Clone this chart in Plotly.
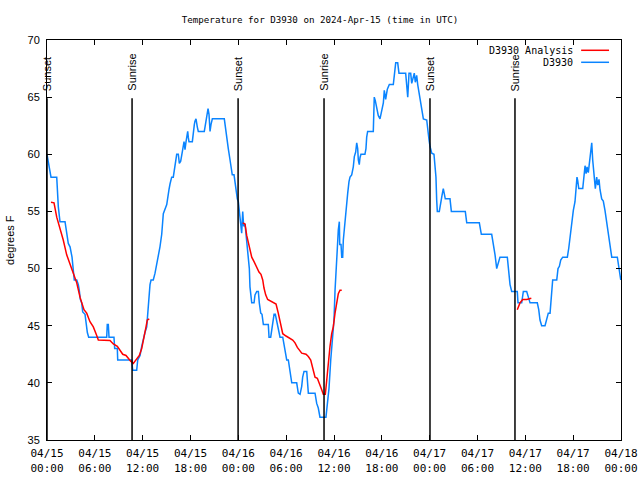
import plotly.graph_objects as go

# ---- data (hours since 2024-04-15 00:00 UTC, degrees F) ----
obs_hours = [0.00, 0.25, 0.50, 1.22, 1.42, 1.63, 2.26, 2.67, 2.89, 3.14, 3.30, 3.42, 3.73, 3.93, 4.05, 4.18, 4.35, 4.48, 4.77, 4.89,
             5.06, 5.23, 7.49, 7.56, 7.69, 7.78, 8.40, 8.49, 8.82, 8.87, 10.62, 10.75, 11.25, 11.38, 11.67, 11.88, 12.08, 12.29, 12.51, 12.71,
             12.92, 13.05, 13.33, 13.55, 13.76, 13.96, 14.17, 14.39, 14.59, 15.02, 15.14, 15.30, 15.43, 15.64, 15.84, 15.97, 16.14, 16.27, 16.47, 16.60,
             16.77, 16.90, 17.02, 17.19, 17.31, 17.44, 17.65, 17.72, 17.81, 18.23, 18.35, 18.48, 18.56, 18.69, 18.85, 18.98, 19.73, 19.82, 19.94, 20.07,
             20.20, 20.32, 20.45, 20.57, 20.74, 22.24, 22.42, 22.54, 22.74, 22.96, 23.08, 23.24, 23.46, 23.58, 23.71, 23.87, 24.00, 24.12, 24.30, 24.42,
             24.55, 24.67, 24.84, 25.05, 25.25, 25.38, 25.46, 25.59, 25.68, 25.97, 26.09, 26.31, 26.51, 26.63, 26.81, 26.97, 27.14, 27.76, 27.85, 28.06,
             28.19, 28.31, 28.48, 28.64, 28.82, 29.01, 29.23, 29.57, 29.64, 29.85, 30.07, 30.27, 30.48, 30.70, 31.32, 31.52, 31.74, 31.95, 32.07, 32.24,
             32.58, 32.78, 33.62, 33.83, 34.03, 34.24, 34.99, 35.16, 35.37, 35.59, 35.79, 36.00, 36.13, 36.34, 36.42, 36.54, 36.67, 36.72, 36.88, 36.97,
             37.09, 37.17, 37.29, 37.42, 37.59, 37.72, 37.88, 38.01, 38.22, 38.42, 38.55, 38.72, 38.85, 38.97, 39.05, 39.17, 39.26, 39.38, 39.88, 40.01,
             40.10, 40.22, 40.93, 41.05, 41.18, 41.35, 41.55, 41.77, 41.98, 42.19, 42.31, 42.48, 42.69, 42.94, 43.44, 43.56, 43.74, 43.99, 44.15, 44.99,
             45.12, 45.25, 45.41, 45.62, 45.75, 45.91, 46.07, 46.20, 46.37, 46.50, 46.70, 46.88, 47.00, 47.21, 47.63, 47.76, 47.92, 48.04, 48.26, 48.54,
             48.67, 48.79, 48.88, 48.96, 49.21, 49.38, 49.55, 49.71, 49.84, 49.96, 50.55, 50.72, 52.47, 52.65, 54.23, 54.48, 55.78, 55.98, 56.20, 56.41,
             56.61, 56.82, 57.74, 57.91, 58.08, 58.29, 58.99, 59.08, 59.54, 59.75, 60.17, 60.38, 60.59, 61.50, 61.68, 61.84, 62.05, 62.47, 62.68, 62.88,
             63.10, 63.31, 63.43, 63.94, 64.10, 64.27, 64.44, 64.69, 65.27, 65.45, 65.61, 65.82, 66.02, 66.23, 66.36, 66.48, 66.57, 66.70, 67.20, 67.32,
             67.49, 67.62, 67.74, 67.90, 68.11, 68.24, 68.33, 68.45, 68.61, 68.78, 68.95, 69.08, 69.24, 69.37, 69.58, 69.78, 69.99, 70.21, 70.41, 70.62,
             70.84, 71.54, 71.71, 71.88, 71.97]
obs_temps = [60.0, 59.1, 58.0, 58.0, 55.4, 54.1, 54.1, 52.2, 51.9, 51.0, 50.0, 49.0, 49.0, 48.6, 48.1, 47.3, 47.0, 46.2, 46.0, 45.1,
             44.4, 44.0, 44.0, 45.1, 45.1, 44.0, 44.0, 43.0, 43.0, 42.0, 42.0, 41.1, 41.1, 42.0, 42.4, 43.2, 43.9, 44.4, 44.9, 47.0,
             48.6, 49.0, 49.0, 49.6, 50.3, 51.2, 51.9, 53.0, 54.8, 55.6, 56.4, 56.9, 57.4, 58.0, 58.0, 58.5, 59.5, 60.0, 60.0, 59.2,
             59.4, 59.8, 60.4, 61.1, 60.4, 61.1, 62.0, 61.5, 61.1, 61.1, 62.1, 62.6, 62.9, 63.1, 62.4, 62.0, 62.0, 62.4, 63.0, 63.7,
             64.0, 63.5, 62.0, 62.6, 63.1, 63.1, 62.0, 61.5, 60.5, 59.5, 58.8, 58.2, 58.2, 57.5, 56.7, 56.1, 55.85, 55.1, 54.1, 53.1,
             55.0, 53.7, 53.9, 52.5, 51.2, 50.0, 48.4, 47.7, 47.0, 47.0, 47.7, 48.0, 48.0, 47.0, 46.1, 46.0, 45.1, 45.1, 44.0, 44.0,
             44.8, 45.5, 46.0, 46.0, 45.35, 44.5, 44.0, 44.0, 43.75, 42.7, 42.0, 42.0, 40.8, 40.0, 40.0, 39.1, 39.0, 39.7, 40.5, 41.0,
             41.0, 39.1, 39.1, 38.2, 37.8, 37.0, 37.0, 37.9, 39.5, 42.0, 44.0, 45.5, 48.1, 50.2, 51.8, 53.4, 54.1, 52.1, 52.1, 51.0,
             51.0, 52.5, 53.5, 54.5, 55.6, 56.6, 57.6, 58.0, 58.2, 58.9, 59.8, 60.2, 61.0, 60.5, 59.5, 59.1, 59.7, 60.0, 60.0, 60.5,
             61.5, 62.0, 62.0, 65.0, 64.7, 64.2, 63.4, 63.1, 63.8, 64.5, 65.6, 64.8, 65.7, 66.1, 66.1, 66.9, 68.0, 68.0, 67.1, 67.1,
             66.1, 65.0, 67.1, 67.1, 66.2, 66.6, 67.1, 66.3, 66.9, 66.1, 65.2, 64.6, 63.7, 63.1, 63.0, 62.0, 61.25, 60.7, 60.1, 60.0,
             59.2, 58.0, 56.0, 55.0, 55.0, 55.85, 56.4, 57.0, 56.4, 56.1, 56.1, 55.0, 55.0, 54.0, 54.0, 53.0, 53.0, 52.2, 51.2, 50.0,
             50.5, 51.0, 51.0, 49.4, 48.6, 48.0, 48.0, 47.0, 47.0, 48.0, 48.0, 47.5, 47.0, 47.0, 46.4, 45.5, 45.0, 45.0, 45.6, 46.1,
             46.1, 47.9, 49.0, 49.0, 50.0, 50.2, 50.75, 51.0, 51.0, 51.8, 52.8, 54.0, 55.1, 55.85, 56.7, 58.0, 57.7, 57.0, 57.0, 58.0,
             59.0, 58.3, 58.9, 58.4, 59.5, 60.5, 61.0, 59.5, 58.0, 57.0, 58.0, 57.3, 57.8, 56.9, 56.1, 55.9, 55.1, 54.0, 52.8, 51.9,
             51.0, 51.0, 50.2, 49.6, 49.0]

ana_hours = [0.50, 0.88, 1.22, 1.63, 2.04, 2.47, 2.89, 3.30, 3.73, 4.14, 4.64, 4.98, 5.39, 5.81, 6.15, 6.44, 7.90, 8.32, 8.82, 9.16,
             9.50, 9.91, 10.20, 10.50, 10.83, 11.25, 11.58, 11.88, 12.17, 12.42, 12.58, 12.83, None,
             24.55, 24.84, 25.05, 25.25, 25.46, 25.68, 25.97, 26.31, 26.59, 26.84, 27.06, 27.22, 27.43, 27.68, 28.19, 28.73, 29.01, 29.32,
             29.57, 29.98, 30.48, 30.82, 31.11, 31.40, 31.95, 32.49, 32.78, 33.08, 33.33, 33.62, 33.91, 34.16, 34.46, 34.66, 34.91, 35.09,
             35.29, 35.50, 35.71, 35.91, 36.13, 36.34, 36.54, 36.75, 36.97, None,
             58.99, 59.33, 59.67, 60.17, 60.75]
ana_temps = [55.8, 55.75, 54.5, 53.5, 52.5, 51.2, 50.3, 49.6, 48.75, 47.5, 46.4, 46.1, 45.35, 44.9, 44.3, 43.75, 43.7, 43.4, 43.2, 42.9,
             42.5, 42.4, 42.1, 41.9, 41.7, 42.1, 42.4, 43.0, 43.9, 44.9, 45.5, 45.6, None,
             54.0, 53.9, 52.9, 52.2, 51.6, 51.0, 50.6, 50.1, 49.7, 49.5, 49.0, 48.3, 47.7, 47.3, 47.1, 46.9, 46.1, 45.1,
             44.3, 44.1, 43.9, 43.75, 43.5, 43.1, 42.6, 42.5, 42.3, 42.0, 41.3, 40.5, 40.4, 40.0, 39.4, 39.0, 39.0, 40.25,
             41.9, 43.2, 44.3, 44.9, 46.1, 47.0, 47.8, 48.1, 48.1, None,
             46.4, 47.0, 47.3, 47.3, 47.4]

sun_hours = [0.0, 10.67, 23.97, 34.75, 48.04, 58.70]
sun_labels = ["Sunset", "Sunrise", "Sunset", "Sunrise", "Sunset", "Sunrise"]

tick_hours = [0, 6, 12, 18, 24, 30, 36, 42, 48, 54, 60, 66, 72]
tick_labels = ["04/15<br>00:00", "04/15<br>06:00", "04/15<br>12:00", "04/15<br>18:00",
               "04/16<br>00:00", "04/16<br>06:00", "04/16<br>12:00", "04/16<br>18:00",
               "04/17<br>00:00", "04/17<br>06:00", "04/17<br>12:00", "04/17<br>18:00",
               "04/18<br>00:00"]

series_names = ["D3930 Analysis", "D3930"]
RED = "#ff0000"
BLUE = "#0a84ff"
MONO = "DejaVu Sans Mono"
SANS = "Liberation Sans"

fig = go.Figure()
fig.add_trace(go.Scatter(x=obs_hours, y=obs_temps, mode="lines", name=series_names[1],
                         line=dict(color=BLUE, width=1.5), showlegend=False))
fig.add_trace(go.Scatter(x=ana_hours, y=ana_temps, mode="lines", name=series_names[0],
                         line=dict(color=RED, width=1.5), connectgaps=False, showlegend=False))

line_top = 64.9
for h, lab in zip(sun_hours, sun_labels):
    fig.add_shape(type="line", x0=h, x1=h, y0=35, y1=line_top, xref="x", yref="y",
                  line=dict(color="black", width=1.5))
    fig.add_annotation(x=h, y=65.35, xref="x", yref="y", text=lab, textangle=-90,
                       showarrow=False, xanchor="center", yanchor="bottom",
                       font=dict(family=SANS, size=11, color="black"))

# manual legend (text right-aligned, sample line to the right)
leg_y = [69.1, 68.05]
leg_colors = [RED, BLUE]
for name, yy, col in zip(series_names, leg_y, leg_colors):
    fig.add_annotation(x=66.2, y=yy, xref="x", yref="y", text=name, showarrow=False,
                       xanchor="right", yanchor="middle",
                       font=dict(family=MONO, size=10, color="black"))
    fig.add_shape(type="line", x0=67.0, x1=70.5, y0=yy, y1=yy, xref="x", yref="y",
                  line=dict(color=col, width=1.5))

# y-axis title as a rotated annotation
fig.add_annotation(x=-0.0645, y=0.5, xref="paper", yref="paper", text="degrees F", textangle=-90,
                   showarrow=False, xanchor="center", yanchor="middle",
                   font=dict(family=SANS, size=11, color="black"))

fig.update_layout(
    width=640, height=480,
    margin=dict(l=47, r=19, t=40, b=40, autoexpand=False),
    paper_bgcolor="white", plot_bgcolor="white",
    title=dict(text="Temperature for D3930 on 2024-Apr-15 (time in UTC)", x=0.5, xref="container",
               y=1 - 20 / 480, yanchor="middle", font=dict(family=MONO, size=9.2, color="black")),
    showlegend=False,
)
fig.update_xaxes(range=[0, 72], tickvals=tick_hours, ticktext=tick_labels, showgrid=False, zeroline=False,
                 showline=True, linecolor="black", linewidth=1, mirror="ticks", ticks="inside", ticklen=5,
                 tickcolor="black", tickfont=dict(family=MONO, size=11, color="black"), automargin=False,
                 ticklabelstandoff=3)
fig.update_yaxes(range=[35, 70], dtick=5, tick0=35, showgrid=False, zeroline=False,
                 showline=True, linecolor="black", linewidth=1, mirror="ticks", ticks="inside", ticklen=5,
                 tickcolor="black", tickfont=dict(family=SANS, size=11, color="black"), automargin=False,
                 ticklabelstandoff=4)

fig.write_html("out.html", config={"displayModeBar": False},
               post_script="document.body.style.margin='0px';")
